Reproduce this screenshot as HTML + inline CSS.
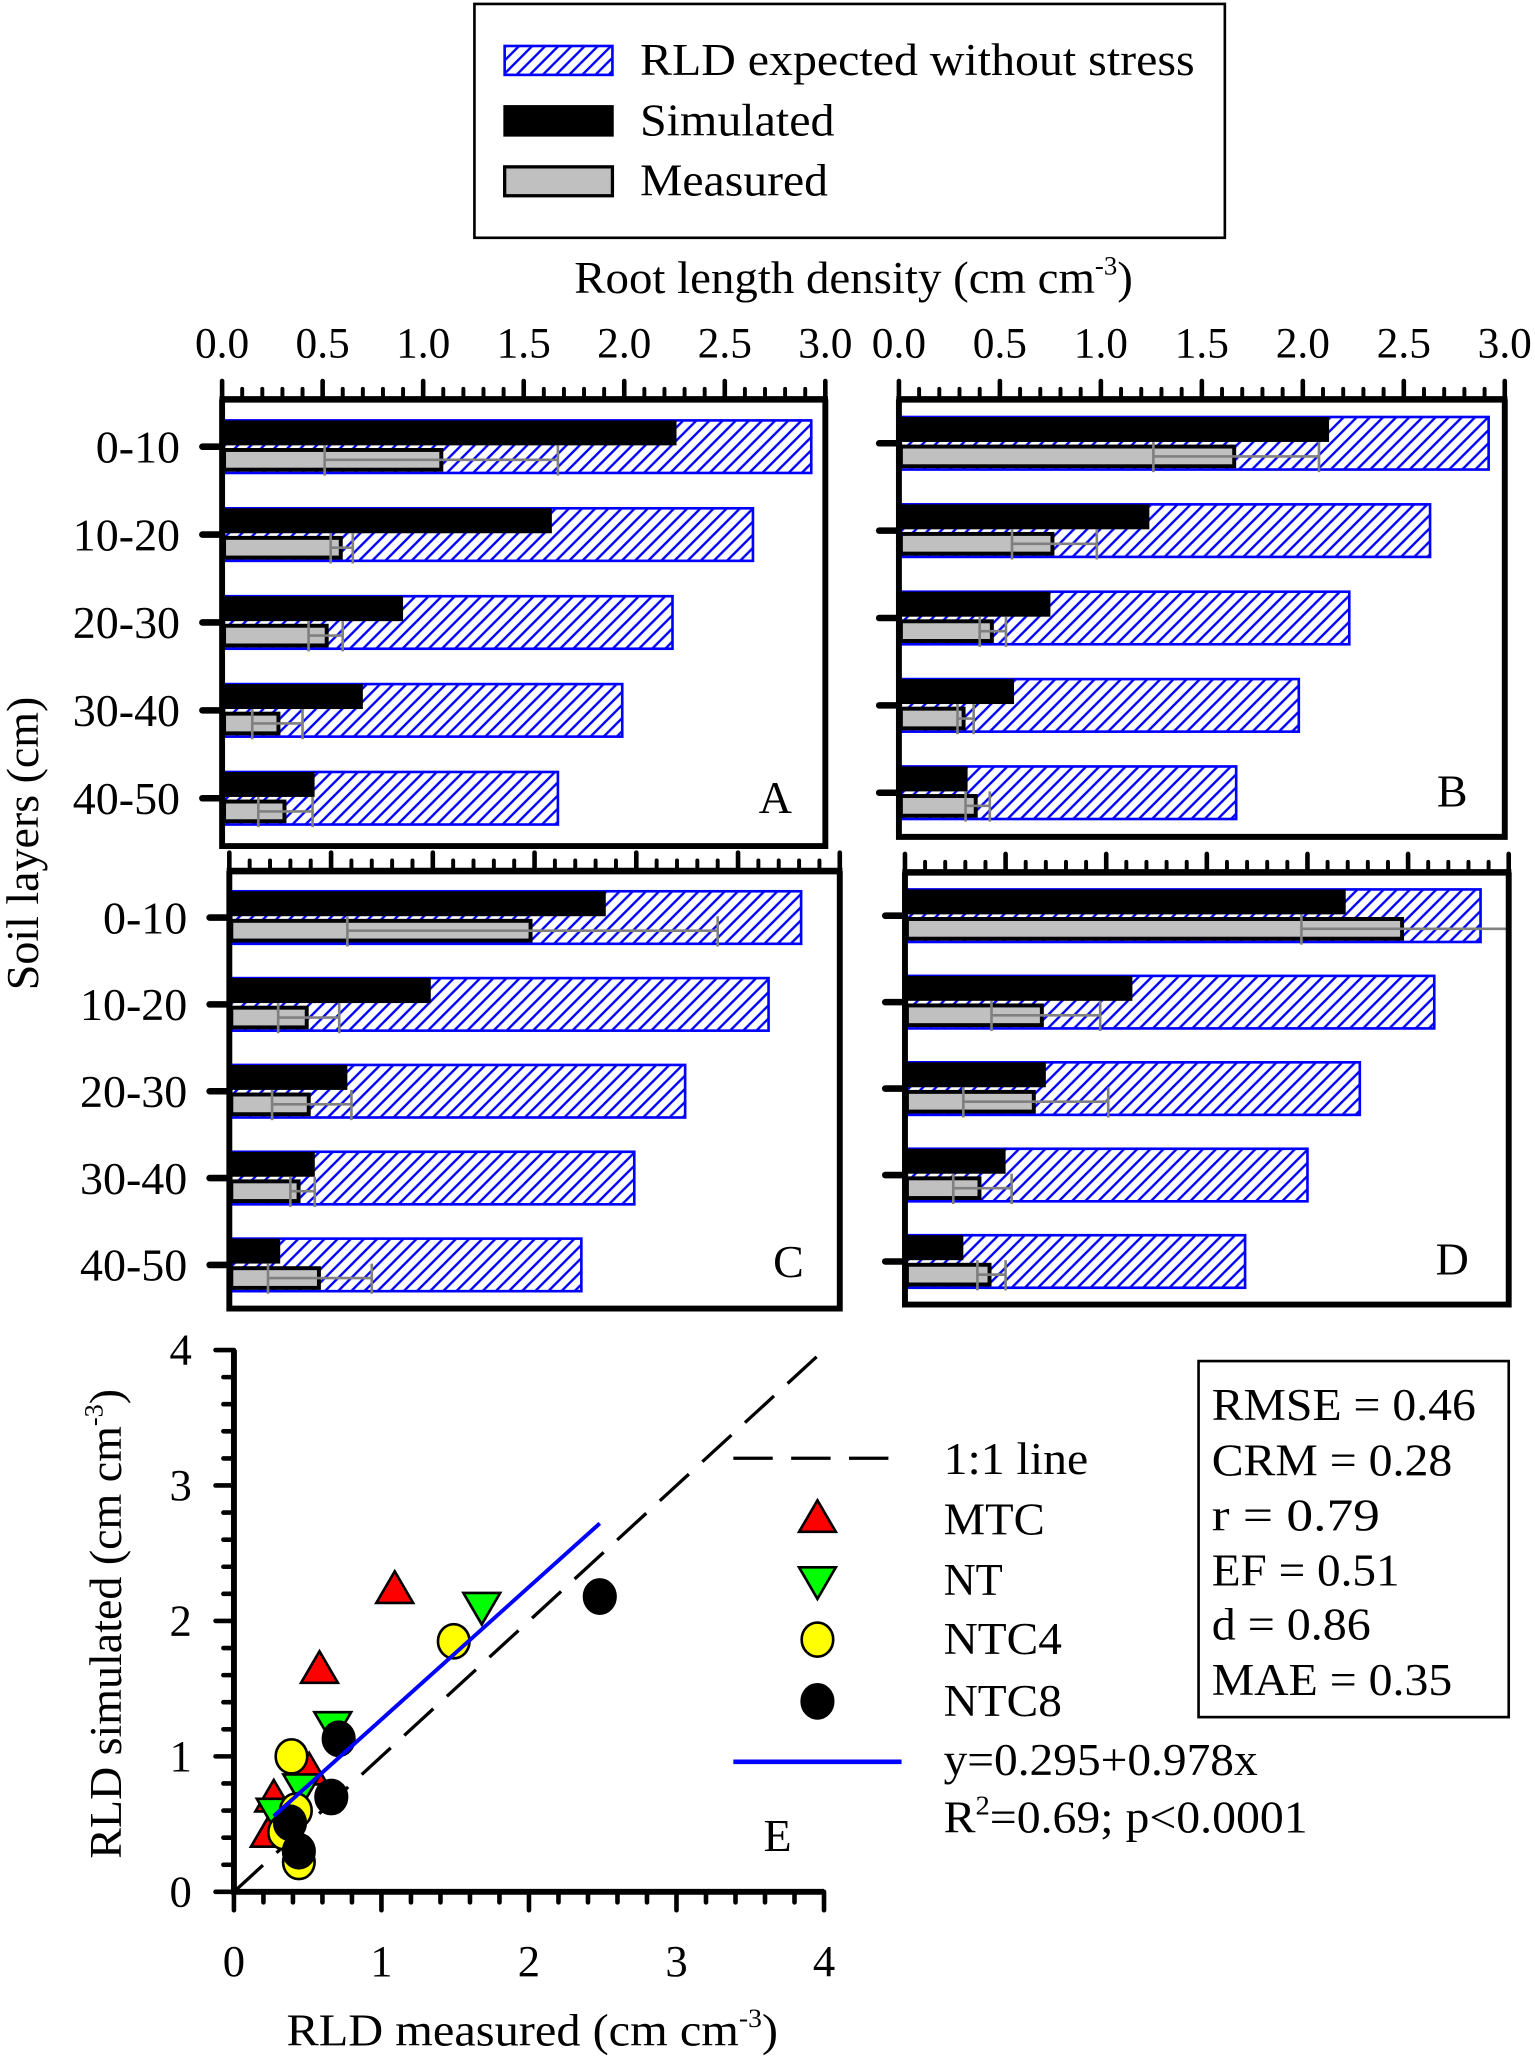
<!DOCTYPE html>
<html><head><meta charset="utf-8"><style>
html,body{margin:0;padding:0;background:#fff;}
svg{display:block;font-family:"Liberation Serif",serif;}
</style></head><body>
<svg id="fig" xmlns="http://www.w3.org/2000/svg" width="1535" height="2060" viewBox="0 0 1168 1568" preserveAspectRatio="none">
<defs>
<pattern id="hatch" patternUnits="userSpaceOnUse" width="10" height="10">
<rect width="10" height="10" fill="#fff"/>
<path d="M-2,2 L2,-2 M0,10 L10,0 M8,12 L12,8" stroke="#0000ff" stroke-width="1.8"/>
</pattern>
</defs>
<rect width="1168" height="1568" fill="#fff"/>
<g>
<rect x="361" y="3" width="571" height="178" fill="none" stroke="#000" stroke-width="2"/>
<rect x="384" y="35" width="82" height="22" fill="url(#hatch)" stroke="#0000ff" stroke-width="2"/>
<text x="487" y="57" font-size="35" textLength="422" lengthAdjust="spacingAndGlyphs">RLD expected without stress</text>
<rect x="384" y="81" width="82" height="22" fill="#000" stroke="#000" stroke-width="2"/>
<text x="487" y="103" font-size="35" textLength="148" lengthAdjust="spacingAndGlyphs">Simulated</text>
<rect x="384" y="127" width="82" height="22" fill="#c0c0c0" stroke="#000" stroke-width="2.5"/>
<text x="487" y="149" font-size="35" textLength="143" lengthAdjust="spacingAndGlyphs">Measured</text>
</g>
<text x="437" y="223" font-size="35" textLength="425" lengthAdjust="spacingAndGlyphs">Root length density (cm cm<tspan font-size="20" dy="-14">-3</tspan><tspan dy="14">)</tspan></text>
<text transform="translate(29,642) rotate(-90)" text-anchor="middle" font-size="35">Soil layers (cm)</text>
<g id="panels"></g>
<g id="scatter"></g>
<text transform="translate(92,1236) rotate(-90)" text-anchor="middle" font-size="35">RLD simulated (cm cm<tspan font-size="20" dy="-14">-3</tspan><tspan dy="14">)</tspan></text>
<text x="218" y="1557" font-size="35" textLength="374" lengthAdjust="spacingAndGlyphs">RLD measured (cm cm<tspan font-size="20" dy="-14">-3</tspan><tspan dy="14">)</tspan></text>
<g>
<line x1="558" y1="1110" x2="686" y2="1110" stroke="#000" stroke-width="2.5" stroke-dasharray="30,14"/>
<text x="718" y="1122" font-size="35" textLength="110" lengthAdjust="spacingAndGlyphs">1:1 line</text>
<polygon points="622,1142 636,1166 608,1166" fill="#ff0000" stroke="#000" stroke-width="2"/>
<text x="718" y="1168" font-size="35" textLength="77" lengthAdjust="spacingAndGlyphs">MTC</text>
<polygon points="608,1193 636,1193 622,1217" fill="#00ff00" stroke="#000" stroke-width="2"/>
<text x="718" y="1214" font-size="35" textLength="45" lengthAdjust="spacingAndGlyphs">NT</text>
<ellipse cx="622" cy="1248" rx="12" ry="13" fill="#ffff00" stroke="#000" stroke-width="2"/>
<text x="718" y="1259" font-size="35" textLength="90" lengthAdjust="spacingAndGlyphs">NTC4</text>
<ellipse cx="622" cy="1295" rx="12" ry="13" fill="#000" stroke="#000" stroke-width="2"/>
<text x="718" y="1306" font-size="35" textLength="90" lengthAdjust="spacingAndGlyphs">NTC8</text>
<line x1="558" y1="1341" x2="686" y2="1341" stroke="#0000ff" stroke-width="3.5"/>
<text x="718" y="1351" font-size="35" textLength="239" lengthAdjust="spacingAndGlyphs">y=0.295+0.978x</text>
<text x="718" y="1395" font-size="35" textLength="277" lengthAdjust="spacingAndGlyphs">R<tspan font-size="21" dy="-14">2</tspan><tspan dy="14">=0.69; p&lt;0.0001</tspan></text>
<text x="581" y="1409" font-size="35">E</text>
</g>
<g>
<rect x="912" y="1036" width="236" height="271" fill="none" stroke="#000" stroke-width="2"/>
<text x="922" y="1081" font-size="35" textLength="201" lengthAdjust="spacingAndGlyphs">RMSE = 0.46</text>
<text x="922" y="1123" font-size="35" textLength="183" lengthAdjust="spacingAndGlyphs">CRM = 0.28</text>
<text x="922" y="1165" font-size="35" textLength="128" lengthAdjust="spacingAndGlyphs">r = 0.79</text>
<text x="922" y="1207" font-size="35" textLength="143" lengthAdjust="spacingAndGlyphs">EF = 0.51</text>
<text x="922" y="1248" font-size="35" textLength="121" lengthAdjust="spacingAndGlyphs">d = 0.86</text>
<text x="922" y="1290" font-size="35" textLength="183" lengthAdjust="spacingAndGlyphs">MAE = 0.35</text>
</g>
</svg>
<script>
const layers = ['0-10','10-20','20-30','30-40','40-50'];
const xTickLabels = ['0.0','0.5','1.0','1.5','2.0','2.5','3.0'];
const expA = [2.93,2.64,2.24,1.99,1.67];
const simA = [2.26,1.64,0.90,0.70,0.46];
const measA = [1.10,0.60,0.53,0.29,0.32];
const loA = [0.51,0.54,0.43,0.15,0.18];
const hiA = [1.67,0.65,0.60,0.40,0.45];
const expB = [2.92,2.63,2.23,1.98,1.67];
const simB = [2.13,1.24,0.75,0.57,0.34];
const measB = [1.67,0.77,0.47,0.33,0.39];
const loB = [1.26,0.56,0.40,0.29,0.33];
const hiB = [2.08,0.98,0.53,0.37,0.45];
const expC = [2.81,2.65,2.24,1.99,1.73];
const simC = [1.85,0.99,0.58,0.42,0.25];
const measC = [1.49,0.39,0.40,0.35,0.45];
const loC = [0.58,0.24,0.21,0.30,0.19];
const hiC = [2.40,0.54,0.60,0.42,0.70];
const expD = [2.86,2.63,2.26,2.00,1.69];
const simD = [2.19,1.13,0.70,0.50,0.29];
const measD = [2.48,0.69,0.65,0.38,0.43];
const loD = [1.97,0.43,0.29,0.24,0.36];
const hiD = [3.00,0.97,1.01,0.53,0.50];

const mtcX = [1.09,0.58,0.51,0.27,0.24];
const mtcY = [2.24,1.65,0.90,0.70,0.44];
const ntX = [1.68,0.67,0.46,0.28];
const ntY = [2.10,1.22,0.76,0.58];
const ntc4X = [1.49,0.39,0.42,0.34,0.44];
const ntc4Y = [1.85,1.00,0.60,0.44,0.22];
const ntc8X = [2.48,0.71,0.66,0.38,0.44];
const ntc8Y = [2.18,1.13,0.70,0.51,0.30];
const regIntercept = 0.295;
const regSlope = 0.978;
const regRange = [0.27,2.48];
const scatterTicks = [0,1,2,3,4];

const NS = 'http://www.w3.org/2000/svg';
function mk(tag, parent, attrs){const e=document.createElementNS(NS,tag);for(const k in attrs)e.setAttribute(k,attrs[k]);parent.appendChild(e);return e;}

const panelDefs = [
 {id:'a',letter:'A',x0:169,x3:628,top:304,bottom:644,c0:340,step:66.9,exp:expA,sim:simA,meas:measA,lo:loA,hi:hiA,labels:true,tickLabels:true,lx:590,ly:619},
 {id:'b',letter:'B',x0:684,x3:1145,top:304,bottom:637,c0:337.4,step:66.5,exp:expB,sim:simB,meas:measB,lo:loB,hi:hiB,labels:false,tickLabels:true,lx:1105,ly:614},
 {id:'c',letter:'C',x0:174.5,x3:639,top:663,bottom:996,c0:698.4,step:66.1,exp:expC,sim:simC,meas:measC,lo:loC,hi:hiC,labels:true,tickLabels:false,lx:600,ly:972},
 {id:'d',letter:'D',x0:688.6,x3:1148,top:664,bottom:993,c0:697,step:65.8,exp:expD,sim:simD,meas:measD,lo:loD,hi:hiD,labels:false,tickLabels:false,lx:1105,ly:970}
];
const panelsG = document.getElementById('panels');
panelDefs.forEach(p=>{
  const g = mk('g',panelsG,{});
  
  
  const sx = v => p.x0 + v*(p.x3-p.x0)/3;
  layers.forEach((lab,i)=>{
    const c = p.c0 + i*p.step;
    const he = mk('rect',g,{x:p.x0,y:c-20,width:sx(p.exp[i])-p.x0,height:40,fill:'url(#hatch)',stroke:'#0000ff','stroke-width':2});
    
    
    const bs = mk('rect',g,{x:p.x0,y:c-20,width:sx(p.sim[i])-p.x0,height:19,fill:'#000'});
    
    
    const bm = mk('rect',g,{x:p.x0+1.5,y:c+2.5,width:Math.max(0,sx(p.meas[i])-p.x0-3),height:15,fill:'#c0c0c0',stroke:'#000','stroke-width':3});
    
    
    const eb = mk('path',g,{d:`M${sx(p.lo[i])},${c+10}H${sx(p.hi[i])}M${sx(p.lo[i])},${c-1}V${c+22}M${sx(p.hi[i])},${c-1}V${c+22}`,stroke:'#808080','stroke-width':2,fill:'none'});
    
    
    const tk = mk('line',g,{x1:p.x0-15,y1:c,x2:p.x0,y2:c,stroke:'#000','stroke-width':5,'stroke-linecap':'round'});
    
    
    if(p.labels){
      const t = mk('text',g,{x:p.x0-32,y:c+12,'font-size':35,'text-anchor':'end'});
      t.textContent = lab;
      
      
    }
  });
  const fr = mk('path',g,{d:`M${p.x0},${p.top}V${p.bottom}H${p.x3}V${p.top}`,fill:'none',stroke:'#000','stroke-width':4.5});
  
  
  const ax = mk('line',g,{x1:p.x0-2,y1:p.top,x2:p.x3+2,y2:p.top,stroke:'#000','stroke-width':5});
  
  
  for(let k=0;k<=30;k++){
    const v=k/10, major=(k%5===0);
    const tl = mk('line',g,{x1:sx(v),y1:p.top,x2:sx(v),y2:p.top-(major?14:8),stroke:'#000','stroke-width':major?3.5:3,'stroke-linecap':'round'});
    
    
  }
  if(p.tickLabels){
    xTickLabels.forEach((lab,k)=>{
      const t = mk('text',g,{x:sx(k*0.5),y:p.top-32,'font-size':33,'text-anchor':'middle'});
      t.textContent = lab;
      
      
    });
  }
  const L = mk('text',g,{x:p.lx,y:p.ly,'font-size':35,'text-anchor':'middle'});
  L.textContent = p.letter;
  
  
});

const sg = document.getElementById('scatter');
const SX = v => 178 + v*112.25;
const SY = v => 1440 - v*103.1;
const one = mk('line',sg,{x1:SX(0),y1:SY(0),x2:SX(4),y2:SY(4),stroke:'#000','stroke-width':2.5,'stroke-dasharray':'30,14'});


function tri(x,y,up,fill,name){
  const cx=SX(x), cy=SY(y);
  const pts = up ? `${cx},${cy-13} ${cx+14},${cy+11} ${cx-14},${cy+11}` : `${cx-14},${cy-11} ${cx+14},${cy-11} ${cx},${cy+13}`;
  const e = mk('polygon',sg,{points:pts,fill:fill,stroke:'#000','stroke-width':2});
  
  
}
function circ(x,y,fill,name){
  const e = mk('ellipse',sg,{cx:SX(x),cy:SY(y),rx:12,ry:13,fill:fill,stroke:'#000','stroke-width':2});
  
  
}
mtcX.forEach((x,i)=>tri(x,mtcY[i],true,'#ff0000','point-mtc'));
ntX.forEach((x,i)=>tri(x,ntY[i],false,'#00ff00','point-nt'));
ntc4X.forEach((x,i)=>circ(x,ntc4Y[i],'#ffff00','point-ntc4'));
ntc8X.forEach((x,i)=>circ(x,ntc8Y[i],'#000','point-ntc8'));
const reg = mk('line',sg,{x1:SX(regRange[0]),y1:SY(regIntercept+regSlope*regRange[0]),x2:SX(regRange[1]),y2:SY(regIntercept+regSlope*regRange[1]),stroke:'#0000ff','stroke-width':3});


const sax = mk('path',sg,{d:`M${SX(0)},${SY(4)}V${SY(0)}H${SX(4)}`,fill:'none',stroke:'#000','stroke-width':4.5});


for(let k=0;k<=20;k++){
  const v=k/5, major=(k%5===0);
  const ty = mk('line',sg,{x1:SX(0),y1:SY(v),x2:SX(0)-(major?14:8),y2:SY(v),stroke:'#000','stroke-width':3.5,'stroke-linecap':'round'});
  
  
  const tx = mk('line',sg,{x1:SX(v),y1:SY(0),x2:SX(v),y2:SY(0)+(major?14:8),stroke:'#000','stroke-width':3.5,'stroke-linecap':'round'});
  
  
}
scatterTicks.forEach(v=>{
  const ty = mk('text',sg,{x:146,y:SY(v)+11,'font-size':34,'text-anchor':'end'});
  ty.textContent = String(v);
  
  
  const tx = mk('text',sg,{x:SX(v),y:1504,'font-size':34,'text-anchor':'middle'});
  tx.textContent = String(v);
  
  
});
</script>
</body></html>
